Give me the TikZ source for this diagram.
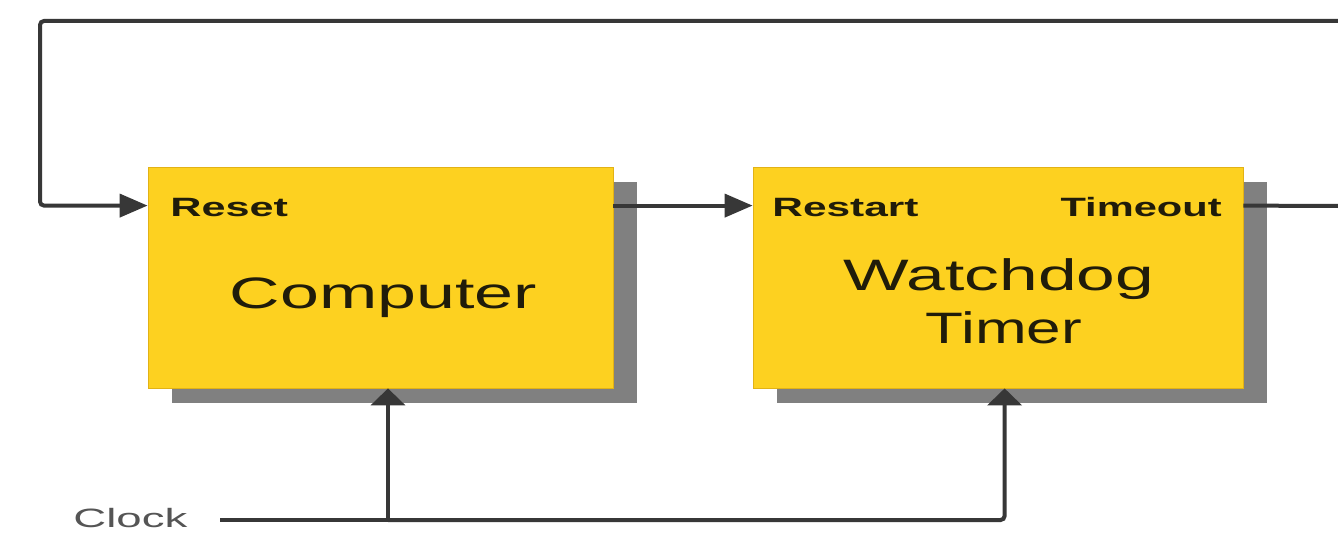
\documentclass[tikz,border=0pt]{standalone}
\usepackage{fontspec}
\setmainfont{Liberation Sans}
\usetikzlibrary{arrows.meta,shadows,calc}

\definecolor{boxyellow}{RGB}{253,209,32}
\definecolor{boxedge}{RGB}{226,178,22}
\definecolor{shadowgray}{RGB}{128,128,128}
\definecolor{wirecolor}{RGB}{55,55,55}
\definecolor{inkcolor}{RGB}{32,28,10}
\definecolor{clockgray}{RGB}{85,85,85}

% horizontally widened text
\newcommand\hstretch[2]{\scalebox{#1}[1]{#2}}

\begin{document}
\begin{tikzpicture}[x=0.5pt,y=-0.5pt,
  block/.style={rectangle, fill=boxyellow, draw=boxedge, line width=0.4pt, inner sep=0pt,
    drop shadow={shadow xshift=12pt, shadow yshift=-7.5pt, fill=shadowgray, opacity=1}},
  port/.style={inner sep=0pt, font=\bfseries\fontsize{13.25}{14}\selectfont, text=inkcolor},
  title/.style={inner sep=0pt, anchor=base, font=\fontsize{22}{24}\selectfont, text=inkcolor},
  wire/.style={draw=wirecolor, line width=2pt, rounded corners=2pt},
  hin/.style={wire, -{Triangle[length=14pt,width=11.5pt]}},
  vin/.style={wire, -{Triangle[length=8.5pt,width=17pt]}},
]
\fill[white] (0,0) rectangle (1338,540);
\useasboundingbox (0,0) rectangle (1338,540);

% blocks
\node[block, minimum width=232.5pt, minimum height=110.5pt] (comp) at (380.5,277.5) {};
\node[block, minimum width=245pt, minimum height=110.5pt] (wd) at (998,277.5) {};

% block texts
\node[port, anchor=base west] (reset) at (170,216) {\hstretch{1.63}{Reset}};
\node[port, anchor=base west] (restart) at (772,216) {\hstretch{1.6}{Restart}};
\node[port, anchor=base east] (timeout) at (1222,216) {\hstretch{1.57}{Timeout}};
\node[title] (comptxt) at (383.5,308) {\hstretch{1.59}{Computer}};
\node[title] (wdtxt) at (999,290) {\hstretch{1.58}{Watchdog}};
\node[title] (timertxt) at (1004,343) {\hstretch{1.41}{Timer}};
\node[inner sep=0pt, anchor=base west, font=\fontsize{13.25}{14}\selectfont, text=clockgray]
  (clock) at (73,527) {\hstretch{1.72}{Clock}};

% wiring
\coordinate (fbin) at (1338,21);
\coordinate (fbout) at (1338,206);
\coordinate (loopcorner) at (40,21);
\coordinate (clkin) at (220,520);
\coordinate (split) at (388,520);

\draw[wire] ($(wd.north east)+(0,39)$) -- (fbout);
\draw[hin] (fbin) -- (loopcorner) |- ($(comp.north west)+(0,39)$);
\draw[hin] ($(comp.north east)+(0,39)$) -- ($(wd.north west)+(0,39)$);
\draw[wire] (clkin) -- (split);
\draw[vin] (split) -- (comp.south -| split);
\draw[vin] (split) -| ($(wd.south west)+(252,0)$);
\end{tikzpicture}
\end{document}
